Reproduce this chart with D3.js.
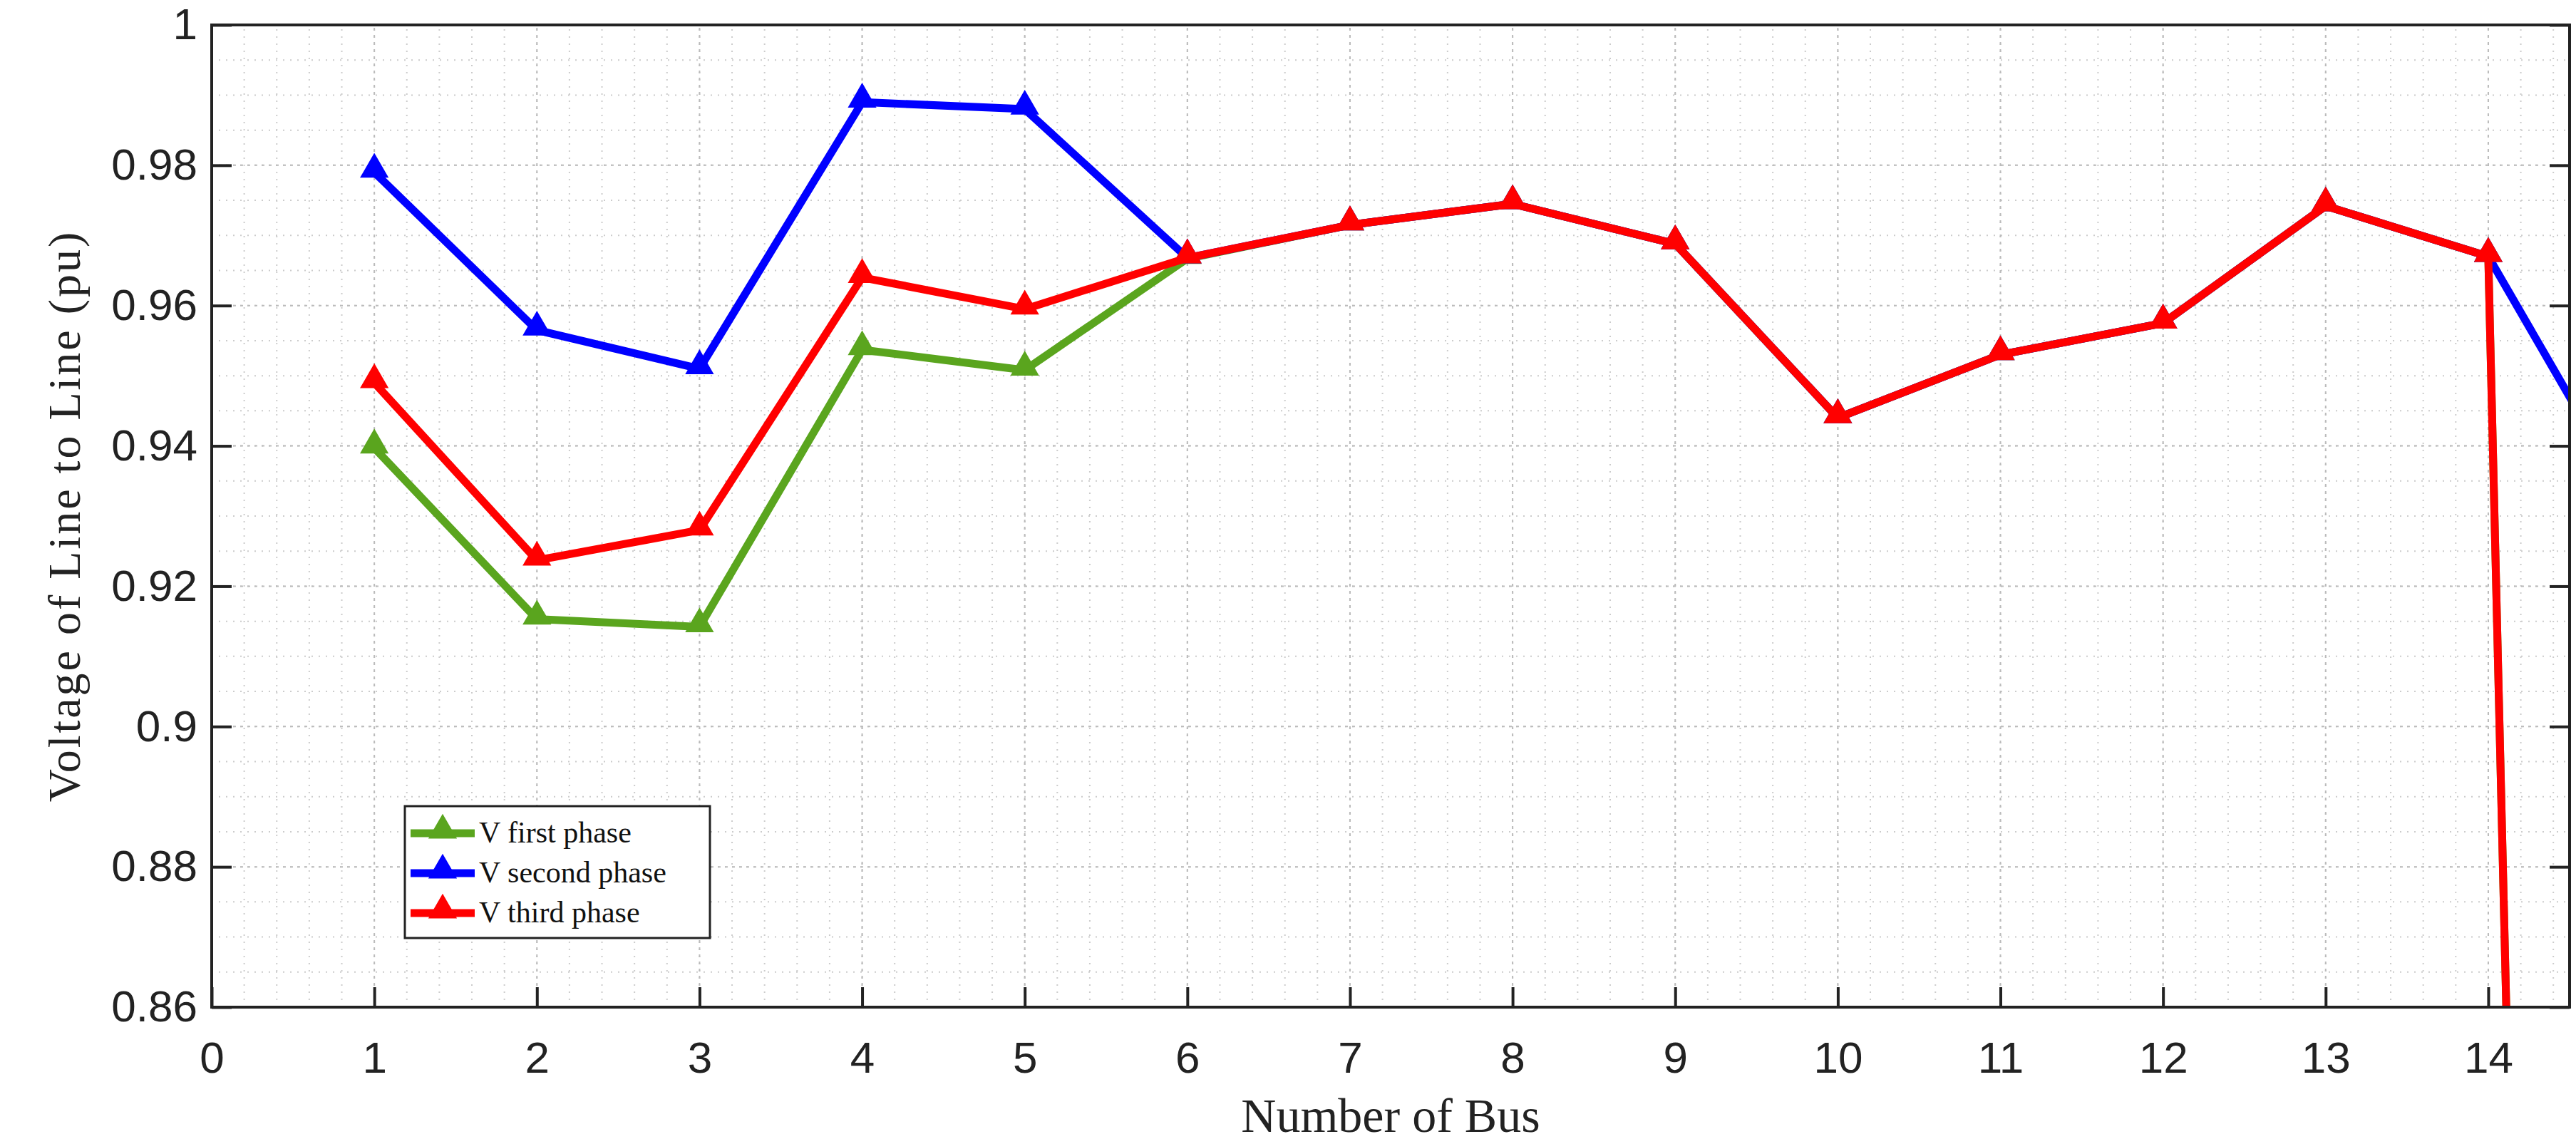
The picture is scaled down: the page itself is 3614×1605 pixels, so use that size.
<!DOCTYPE html>
<html><head><meta charset="utf-8">
<script src="https://cdn.jsdelivr.net/npm/d3@7"></script>
<style>body{margin:0;background:#fff}</style>
</head><body><div id="chart"></div>
<script>
// bus numbers and phase voltages (pu)
var buses = [1,2,3,4,5,6,7,8,9,10,11,12,13,14,15];
var vFirst  = [0.9397,0.9153,0.9142,0.9537,0.9508,0.9667,0.9715,0.9745,0.9688,0.944,0.953,0.9575,0.9742,0.967,0];
var vSecond = [0.979,0.9565,0.951,0.989,0.988,0.9668,0.9715,0.9745,0.9688,0.944,0.953,0.9575,0.9742,0.967,0.927];
var vThird  = [0.949,0.9237,0.928,0.964,0.9595,0.9668,0.9715,0.9745,0.9688,0.944,0.953,0.9575,0.9742,0.967,0];
var xTicks = [0,1,2,3,4,5,6,7,8,9,10,11,12,13,14];
var yTicks = [0.86,0.88,0.9,0.92,0.94,0.96,0.98,1];
var series = [
  {name:"V first phase", color:"#5aa51e", values:vFirst},
  {name:"V second phase", color:"#0000ff", values:vSecond},
  {name:"V third phase", color:"#ff0000", values:vThird}
];

var W = 3614, H = 1605;
var m = {left:297, right:9, top:35, bottom:192};
var svg = d3.select("#chart").append("svg").attr("width", W).attr("height", H);
var x = d3.scaleLinear().domain([0,14.5]).range([m.left, W - m.right]);
var y = d3.scaleLinear().domain([0.86,1]).range([H - m.bottom, m.top]);

// minor grid
var g = svg.append("g");
g.selectAll(".mx").data(d3.range(0,14.5001,0.2)).enter().append("line")
  .attr("x1", d=>x(d)).attr("x2", d=>x(d)).attr("y1", y(0.86)).attr("y2", y(1))
  .attr("stroke","#ccc").attr("stroke-width",2).attr("stroke-dasharray","2,8");
g.selectAll(".my").data(d3.range(0.86,1.0001,0.005)).enter().append("line")
  .attr("y1", d=>y(d)).attr("y2", d=>y(d)).attr("x1", x(0)).attr("x2", x(14.5))
  .attr("stroke","#ccc").attr("stroke-width",2).attr("stroke-dasharray","2,8");
// major grid
g.selectAll(".gx").data(xTicks).enter().append("line")
  .attr("x1", d=>x(d)).attr("x2", d=>x(d)).attr("y1", y(0.86)).attr("y2", y(1))
  .attr("stroke","#bbb").attr("stroke-width",2).attr("stroke-dasharray","4,6");
g.selectAll(".gy").data(yTicks).enter().append("line")
  .attr("y1", d=>y(d)).attr("y2", d=>y(d)).attr("x1", x(0)).attr("x2", x(14.5))
  .attr("stroke","#bbb").attr("stroke-width",2).attr("stroke-dasharray","4,6");

svg.append("clipPath").attr("id","clip").append("rect")
  .attr("x", x(0)).attr("y", y(1)).attr("width", x(14.5)-x(0)).attr("height", y(0.86)-y(1));

var line = d3.line().x((d,i)=>x(buses[i])).y(d=>y(d));
var tri = d3.symbol().type(d3.symbolTriangle).size(700);
var plot = svg.append("g").attr("clip-path","url(#clip)");
series.forEach(function(s){
  plot.append("path").datum(s.values).attr("d", line)
    .attr("fill","none").attr("stroke", s.color).attr("stroke-width",11).attr("stroke-linejoin","round");
  plot.selectAll(null).data(s.values).enter().append("path")
    .attr("d", tri).attr("fill", s.color)
    .attr("transform", (d,i)=>"translate(" + x(buses[i]) + "," + (y(d)-4) + ")");
});

// axes (ticks inward)
var fontTick = "'Liberation Sans Narrow','Liberation Sans',Arial,sans-serif";
var xa = svg.append("g").attr("transform","translate(0," + y(0.86) + ")")
  .call(d3.axisBottom(x).tickValues(xTicks).tickSize(-28).tickPadding(48).tickFormat(d3.format("d")));
var ya = svg.append("g").attr("transform","translate(" + x(0) + ",0)")
  .call(d3.axisLeft(y).tickValues(yTicks).tickSize(-28).tickPadding(20).tickFormat(d=>d3.format("")(+d.toFixed(2))));
var yr = svg.append("g").attr("transform","translate(" + x(14.5) + ",0)")
  .call(d3.axisRight(y).tickValues(yTicks).tickSize(-28).tickFormat(""));
[xa,ya,yr].forEach(function(a){
  a.selectAll("line").attr("stroke","#222").attr("stroke-width",4);
  a.select(".domain").remove();
  a.selectAll("text").attr("font-family", fontTick).attr("font-size",62).attr("fill","#222");
});
svg.append("rect").attr("x", x(0)).attr("y", y(1)).attr("width", x(14.5)-x(0)).attr("height", y(0.86)-y(1))
  .attr("fill","none").attr("stroke","#222").attr("stroke-width",4);

svg.append("text").attr("x",(x(0)+x(14.5))/2).attr("y",1588).attr("text-anchor","middle")
  .attr("font-family","'Liberation Serif',serif").attr("font-size",68).attr("fill","#222").text("Number of Bus");
svg.append("text").attr("transform","translate(112," + ((y(0.86)+y(1))/2) + ") rotate(-90)")
  .attr("text-anchor","middle").attr("font-family","'Liberation Serif',serif").attr("font-size",64)
  .attr("letter-spacing",3).attr("fill","#222").text("Voltage of Line to Line (pu)");

// legend
var lg = svg.append("g").attr("transform","translate(568,1131)");
lg.append("rect").attr("width",428).attr("height",185).attr("fill","#fff").attr("stroke","#222").attr("stroke-width",3);
series.forEach(function(s,i){
  var yy = 38 + i*56;
  lg.append("line").attr("x1",8).attr("x2",98).attr("y1",yy).attr("y2",yy).attr("stroke",s.color).attr("stroke-width",11);
  lg.append("path").attr("d",tri).attr("fill",s.color).attr("transform","translate(53," + (yy-4) + ")");
  lg.append("text").attr("x",104).attr("y",yy+13).attr("font-family","'Liberation Serif',serif")
    .attr("font-size",42).attr("fill","#111").text(s.name);
});
</script></body></html>
